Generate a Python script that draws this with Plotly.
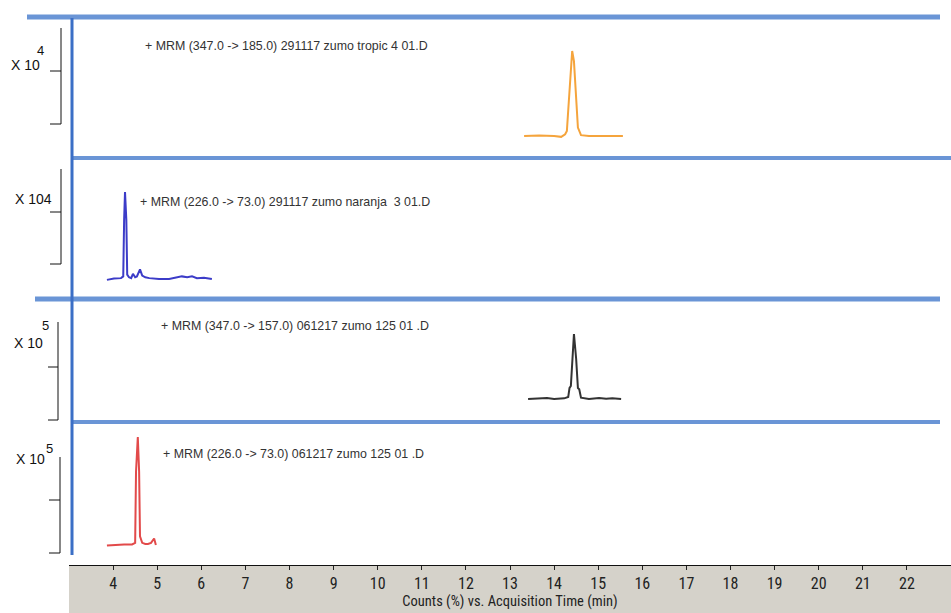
import plotly.graph_objects as go

W, H = 951, 613

# ---------------- data (retention time in min, counts in % of panel max) ----------------
tropic_t = [13.32, 13.66, 14.00, 14.16, 14.25, 14.29, 14.32, 14.37, 14.41, 14.45, 14.50, 14.54, 14.61, 14.79, 15.13, 15.56]
tropic_c = [0, 0.5, 0, -1, 2, 6, 30, 75, 100, 88, 45, 10, 1, 0, 0, 0]

naranja_t = [3.86, 4.02, 4.18, 4.23, 4.25, 4.27, 4.30, 4.32, 4.36, 4.41, 4.45, 4.50, 4.54, 4.61, 4.66, 4.73,
             4.82, 5.04, 5.27, 5.45, 5.56, 5.68, 5.79, 5.90, 6.06, 6.24]
naranja_c = [-1, 0.5, 1, 3, 68, 100, 68, 5, 2, 1, 6, 2, 3, 11, 4, 2,
             1, 0, 0, 2, 3, 2, 3, 1, 1.5, 0]

zumo157_t = [13.41, 13.66, 13.84, 14.00, 14.23, 14.32, 14.35, 14.38, 14.41, 14.45, 14.50, 14.54, 14.57, 14.61,
             14.79, 14.91, 15.02, 15.18, 15.32, 15.52]
zumo157_c = [0, 0.5, 1.5, 0, 1, 3, 17, 20, 62, 100, 62, 17, 15, 2,
             0, 1, 1.5, 0.5, 1, 0]

zumo73_t = [3.86, 4.02, 4.25, 4.43, 4.50, 4.52, 4.56, 4.59, 4.61, 4.66, 4.73, 4.79, 4.86, 4.93, 4.97]
zumo73_c = [-0.5, 0, 0.5, 0.5, 2, 68, 100, 68, 8, 2, 1, 1, 2, 6, 0]

panel_texts = [
    "+ MRM (347.0 -> 185.0) 291117 zumo tropic 4 01.D",
    "+ MRM (226.0 -> 73.0) 291117 zumo naranja  3 01.D",
    "+ MRM (347.0 -> 157.0) 061217 zumo 125 01 .D",
    "+ MRM (226.0 -> 73.0) 061217 zumo 125 01 .D",
]
scale_labels = [("X 10", "4"), ("X 104", ""), ("X 10", "5"), ("X 10", "5")]
x_ticks = list(range(4, 23))
x_title = "Counts (%) vs. Acquisition Time (min)"

colors = ["#f5a43c", "#3c3cc8", "#333333", "#e24a4a"]

# ---------------- layout helpers (pixel -> paper) ----------------
def px(x):
    return x / W

def py(y):
    return 1 - y / H

# panel geometry in pixels: (domain top, domain bottom, baseline, peak top)
panels = [
    (20, 156, 136, 51),
    (160, 296, 279, 192),
    (300, 419, 399, 334),
    (423, 555, 545, 437),
]

series = [(tropic_t, tropic_c), (naranja_t, naranja_c), (zumo157_t, zumo157_c), (zumo73_t, zumo73_c)]

fig = go.Figure()
layout_axes = {}
for i, ((t, c), (T, B, b, p)) in enumerate(zip(series, panels)):
    name = "y" if i == 0 else f"y{i+1}"
    fig.add_trace(go.Scatter(x=t, y=c, mode="lines", yaxis=name, xaxis="x",
                             line=dict(color=colors[i], width=2), hoverinfo="x+y",
                             showlegend=False))
    vmin = (b - B) * 100 / (b - p)
    vmax = (b - T) * 100 / (b - p)
    key = "yaxis" if i == 0 else f"yaxis{i+1}"
    layout_axes[key] = dict(domain=[py(B), py(T)], range=[vmin, vmax], visible=False,
                            anchor="x", fixedrange=True)

shapes = []
# gray x-axis band
shapes.append(dict(type="rect", xref="paper", yref="paper", x0=px(69), x1=1, y0=0, y1=py(565),
                   fillcolor="#d5d2ca", line=dict(width=0), layer="below"))
# blue frame lines
hblue = "#6a95d6"
for (x0, x1, y, w) in [(27, 940, 17, 5), (72, 951, 158, 4), (35, 940, 299, 5), (72, 940, 422, 4)]:
    shapes.append(dict(type="line", xref="paper", yref="paper", x0=px(x0), x1=px(x1), y0=py(y), y1=py(y),
                       line=dict(color=hblue, width=w)))
shapes.append(dict(type="line", xref="paper", yref="paper", x0=px(72), x1=px(72), y0=py(18), y1=py(555),
                   line=dict(color="#3b6fc6", width=3)))
# scale brackets
brackets = [(61, 50, 28, 71, 124), (61, 50, 169, 212, 264), (58, 48, 322, 367, 420), (60, 49, 457, 500, 553)]
for (xv, xt, top, mid, bot) in brackets:
    shapes.append(dict(type="line", xref="paper", yref="paper", x0=px(xv), x1=px(xv), y0=py(top), y1=py(bot),
                       line=dict(color="#111", width=1)))
    for yy in (mid, bot):
        shapes.append(dict(type="line", xref="paper", yref="paper", x0=px(xt), x1=px(xv), y0=py(yy), y1=py(yy),
                           line=dict(color="#111", width=1)))

annotations = []
text_pos = [(143, 46), (138, 202), (159, 326), (161, 454)]
for txt, (x, y) in zip(panel_texts, text_pos):
    annotations.append(dict(text=txt, x=px(x), y=py(y), xref="paper", yref="paper", xanchor="left",
                            yanchor="middle", showarrow=False,
                            font=dict(family="Liberation Sans, Arial, sans-serif", size=12.4, color="#333")))
label_pos = [((9, 65), (40, 51)), ((13, 199), None), ((12, 343), (45, 326)), ((14, 459), (49, 448))]
for (main, sup), (mp, sp) in zip(scale_labels, label_pos):
    annotations.append(dict(text=main, x=px(mp[0]), y=py(mp[1]), xref="paper", yref="paper", xanchor="left",
                            yanchor="middle", showarrow=False,
                            font=dict(family="Liberation Sans, Arial, sans-serif", size=14, color="#111")))
    if sup and sp:
        annotations.append(dict(text=sup, x=px(sp[0]), y=py(sp[1]), xref="paper", yref="paper",
                                xanchor="center", yanchor="middle", showarrow=False,
                                font=dict(family="Liberation Sans, Arial, sans-serif", size=13, color="#111")))

narrow = "Liberation Sans Narrow, Arial Narrow, Roboto Condensed, Liberation Sans, sans-serif"
fig.update_layout(
    width=W, height=H,
    margin=dict(l=0, r=0, t=0, b=0),
    paper_bgcolor="white", plot_bgcolor="white",
    showlegend=False,
    xaxis=dict(domain=[px(69), 1], range=[3, 23], anchor="free", position=py(565),
               tickvals=x_ticks, ticktext=[str(v) for v in x_ticks],
               ticks="outside", ticklen=4, tickcolor="#222", showline=True, linecolor="#111", linewidth=1,
               showgrid=False, zeroline=False, fixedrange=True,
               tickfont=dict(family=narrow, size=16, color="#222"),
               title=dict(text=x_title, standoff=1,
                          font=dict(family=narrow, size=14.5, color="#222"))),
    shapes=shapes,
    annotations=annotations,
    **layout_axes,
)

fig.write_html("out.html", config={"displayModeBar": False},
               post_script="document.body.style.margin='0';document.body.style.padding='0';"
                           "document.documentElement.style.overflow='hidden';")
